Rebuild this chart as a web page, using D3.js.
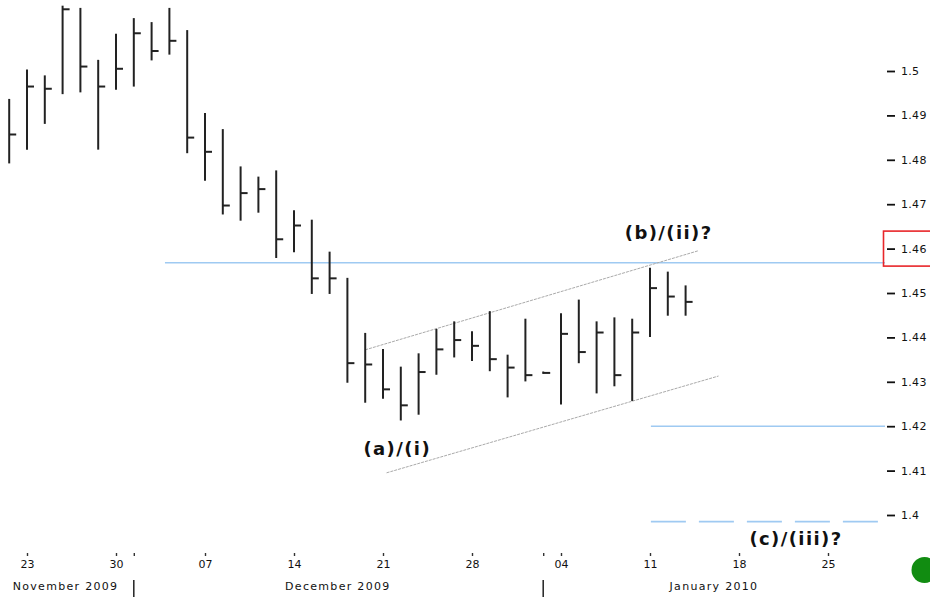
<!DOCTYPE html>
<html>
<head>
<meta charset="utf-8">
<script src="https://cdn.jsdelivr.net/npm/d3@7/dist/d3.min.js"></script>
<style>
  html, body { margin: 0; padding: 0; background: #fff; overflow: hidden; }
  svg { display: block; }
</style>
</head>
<body>
<svg id="chart" width="930" height="602"></svg>
<script>
// trading-day index: 0 = Mon 23 Nov 2009
const dayIdx = [-1,0,1,2,3,4,5,6,7,8,9,10,11,12,13,14,15,16,17,18,19,20,21,22,23,24,25,26,27,28,29,30,31,32,33,34,35,36,37]
const highs  = [1.4936,1.5002,1.4989,1.5146,1.5141,1.5024,1.5083,1.5118,1.5109,1.5141,1.5091,1.4904,1.4868,1.4784,1.4761,1.4775,1.4685,1.4664,1.4592,1.4533,1.4409,1.4373,1.4333,1.4363,1.4418,1.4435,1.4413,1.4458,1.4360,1.4441,1.4322,1.4453,1.4484,1.4435,1.4444,1.4441,1.4556,1.4547,1.4516]
const lows   = [1.4793,1.4824,1.4882,1.4949,1.4953,1.4824,1.4959,1.4966,1.5025,1.5038,1.4816,1.4754,1.4678,1.4664,1.4682,1.4580,1.4593,1.4499,1.4499,1.4299,1.4254,1.4263,1.4214,1.4227,1.4317,1.4356,1.4348,1.4325,1.4266,1.4302,1.4319,1.4250,1.4343,1.4275,1.4291,1.4258,1.4402,1.4450,1.4450]
const closes = [1.4857,1.4965,1.4960,1.5139,1.5010,1.4965,1.5005,1.5085,1.5045,1.5068,1.4850,1.4818,1.4697,1.4725,1.4734,1.4621,1.4652,1.4533,1.4533,1.4342,1.4339,1.4283,1.4247,1.4322,1.4373,1.4394,1.4381,1.4351,1.4332,1.4315,1.4320,1.4408,1.4367,1.4411,1.4315,1.4411,1.4511,1.4492,1.4480]

const weekTicks  = [0,5,10,15,20,25,30,35,40,45]
const weekLabels = ["23","30","07","14","21","28","04","11","18","25"]
const monthBreaks = [6,29]
const months = [{label:"November 2009", at:-0.8},{label:"December 2009", at:14.5},{label:"January 2010", at:36.1}]

const yTicks = [1.40,1.41,1.42,1.43,1.44,1.45,1.46,1.47,1.48,1.49,1.50]
const boxedTick = 1.46

// channel: [idx, value] endpoints
const upperChannel = [[19.0,1.4372],[37.7,1.4595]]
const lowerChannel = [[20.2,1.4095],[38.85,1.4313]]
// horizontal levels: [fromIdx, value, dashed]
const levels = [[7.75,1.4568,false],[35.05,1.4200,false],[35.05,1.3985,true]]

const waveLabels = [
  {text:"(b)/(ii)?", at:36.05, v:1.4622},
  {text:"(a)/(i)", at:20.8, v:1.4136},
  {text:"(c)/(iii)?", at:43.2, v:1.3933}
]

const svg = d3.select("#chart")
const x = d3.scaleLinear().domain([-1,45]).range([9.2,828])
const y = d3.scaleLinear().domain([1.40,1.50]).range([515,71])
const axisX = 885

// horizontal support/resistance lines
svg.selectAll(".level")
  .data(levels)
  .enter()
  .append("line")
    .attr("x1", d => x(d[0]))
    .attr("x2", d => d[2] ? 880 : axisX)
    .attr("y1", d => y(d[1]))
    .attr("y2", d => y(d[1]))
    .style("stroke", "#9fcaf2")
    .style("stroke-width", 1.6)
    .style("stroke-dasharray", d => d[2] ? "35,13" : null)

// channel lines
svg.selectAll(".chan")
  .data([upperChannel, lowerChannel])
  .enter()
  .append("line")
    .attr("x1", d => x(d[0][0]))
    .attr("y1", d => y(d[0][1]))
    .attr("x2", d => x(d[1][0]))
    .attr("y2", d => y(d[1][1]))
    .style("stroke", "#aaa")
    .style("stroke-width", 1)
    .style("stroke-dasharray", "3,1")

// price bars
const bars = dayIdx.map((d,i) => ({i:d, h:highs[i], l:lows[i], c:closes[i]}))

svg.selectAll(".hl")
  .data(bars)
  .enter()
  .append("line")
    .attr("x1", d => x(d.i))
    .attr("x2", d => x(d.i))
    .attr("y1", d => y(d.h) - 0.5)
    .attr("y2", d => y(d.l) + 0.5)
    .style("stroke", "#222")
    .style("stroke-width", 2)

svg.selectAll(".cl")
  .data(bars)
  .enter()
  .append("line")
    .attr("x1", d => x(d.i))
    .attr("x2", d => x(d.i) + 7)
    .attr("y1", d => y(d.c))
    .attr("y2", d => y(d.c))
    .style("stroke", "#222")
    .style("stroke-width", 2)

// right price axis
const yAxis = svg.append("g")
  .attr("transform", `translate(${axisX + 2},0)`)
  .call(d3.axisRight(y).tickValues(yTicks).tickSize(8).tickPadding(6)
    .tickFormat(d => String(+d.toFixed(2))))
yAxis.select(".domain").remove()
yAxis.selectAll("line").style("stroke", "#111").style("stroke-width", 1.8)
yAxis.selectAll("text")
  .style("font-family", "DejaVu Sans, Verdana, sans-serif")
  .style("font-size", "11px")
  .style("letter-spacing", "0.3px")
  .style("fill", "#111")

svg.append("rect")
  .attr("x", axisX - 1.5)
  .attr("y", y(boxedTick) - 17.5)
  .attr("width", 60)
  .attr("height", 35)
  .style("fill", "none")
  .style("stroke", "#e8262a")
  .style("stroke-width", 1.6)

// bottom date axis
const xAxis = svg.append("g")
  .attr("transform", "translate(0,553)")
  .call(d3.axisBottom(x).tickValues(weekTicks.concat(monthBreaks)).tickSize(3).tickPadding(4)
    .tickFormat(d => { const k = weekTicks.indexOf(d); return k < 0 ? "" : weekLabels[k] }))
xAxis.select(".domain").remove()
xAxis.selectAll("line").style("stroke", "#333").style("stroke-width", 1.4)
xAxis.selectAll("text")
  .style("font-family", "DejaVu Sans, Verdana, sans-serif")
  .style("font-size", "11px")
  .style("fill", "#111")

svg.selectAll(".sep")
  .data(monthBreaks)
  .enter()
  .append("line")
    .attr("x1", d => x(d))
    .attr("x2", d => x(d))
    .attr("y1", 580)
    .attr("y2", 597)
    .style("stroke", "#222")
    .style("stroke-width", 1.5)

svg.selectAll(".month")
  .data(months)
  .enter()
  .append("text")
    .attr("x", d => x(d.at))
    .attr("y", 590)
    .style("font-family", "DejaVu Sans, Verdana, sans-serif")
    .style("font-size", "11px")
    .style("letter-spacing", "1.3px")
    .style("fill", "#111")
    .text(d => d.label)

// wave labels
svg.selectAll(".wave")
  .data(waveLabels)
  .enter()
  .append("text")
    .attr("x", d => x(d.at))
    .attr("y", d => y(d.v))
    .attr("text-anchor", "middle")
    .style("font-family", "DejaVu Sans, Verdana, sans-serif")
    .style("font-weight", "bold")
    .style("font-size", "18px")
    .style("letter-spacing", "1.4px")
    .style("fill", "#111")
    .text(d => d.text)

// status dot
svg.append("circle")
  .attr("cx", 924.5)
  .attr("cy", 570)
  .attr("r", 13)
  .style("fill", "#118c11")
</script>
</body>
</html>
